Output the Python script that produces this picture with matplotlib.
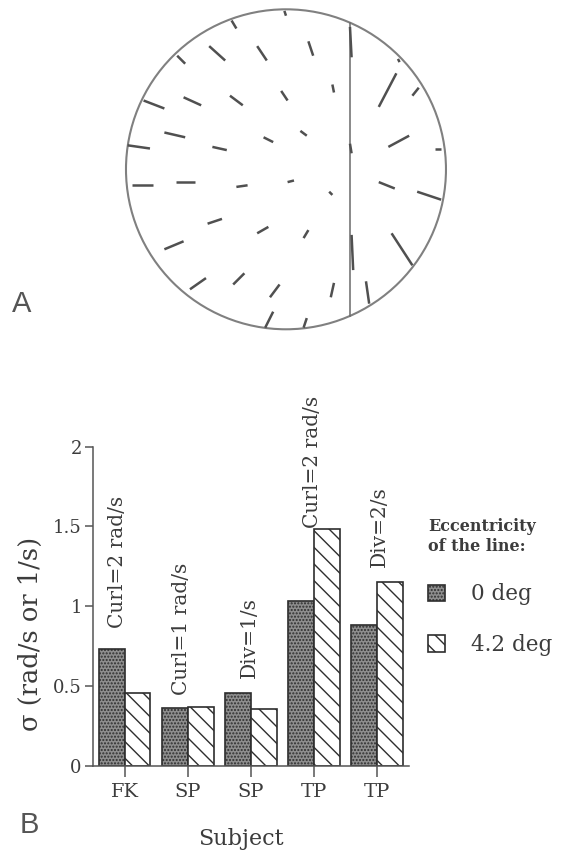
"""
Recreation of a two-panel figure:
  A - flow field of short line segments inside a circular display,
      with the tested line drawn as a vertical chord
  B - threshold sigma per subject, grouped by line eccentricity
"""

import numpy as np
import matplotlib
matplotlib.use("Agg")
import matplotlib.pyplot as plt
from matplotlib.patches import Circle
from matplotlib.collections import LineCollection


# ---------------------------------------------------------------- data: panel A
# segment endpoints, in units of the display radius (centre = 0, 0)
seg_x0 = [-0.01, -0.34, -0.68, -0.48, -0.18, 0.14, 0.29, -0.03, -0.35, -0.64,
          -0.89, -0.76, -0.46, -0.14, 0.09, -0.99, -0.96, -0.69, -0.31, 0.01,
          0.27, -0.49, -0.76, -0.18, 0.11, -0.60, -0.33, -0.10, 0.28, -0.13,
          0.11, 0.58, 0.79, 0.70, 0.64, 0.93, 0.58, 0.82, 0.66, 0.50,
          0.40, 0.40, 0.41]
seg_y0 = [0.99, 0.93, 0.71, 0.77, 0.77, 0.80, 0.53, 0.49, 0.46, 0.45,
          0.43, 0.23, 0.14, 0.20, 0.24, 0.15, -0.10, -0.08, -0.11, -0.08,
          -0.14, -0.34, -0.50, -0.40, -0.43, -0.75, -0.72, -0.80, -0.80, -0.99,
          -0.99, 0.39, 0.46, 0.69, 0.14, 0.13, -0.08, -0.14, -0.40, -0.70,
          0.89, 0.16, -0.41]
seg_x1 = [0.00, -0.31, -0.63, -0.38, -0.12, 0.17, 0.30, 0.01, -0.27, -0.53,
          -0.76, -0.63, -0.37, -0.08, 0.13, -0.85, -0.83, -0.57, -0.24, 0.05,
          0.29, -0.40, -0.64, -0.11, 0.14, -0.50, -0.26, -0.04, 0.30, -0.08,
          0.13, 0.69, 0.83, 0.71, 0.77, 0.97, 0.68, 0.97, 0.79, 0.52,
          0.41, 0.41, 0.42]
seg_y1 = [0.96, 0.88, 0.66, 0.68, 0.68, 0.71, 0.48, 0.43, 0.40, 0.40,
          0.38, 0.20, 0.12, 0.17, 0.21, 0.13, -0.10, -0.08, -0.10, -0.07,
          -0.16, -0.31, -0.45, -0.36, -0.38, -0.68, -0.65, -0.72, -0.71, -0.89,
          -0.93, 0.60, 0.51, 0.67, 0.21, 0.13, -0.12, -0.19, -0.60, -0.84,
          0.70, 0.10, -0.63]
line_x = 0.40          # eccentric test line (vertical chord)

# ---------------------------------------------------------------- data: panel B
subjects    = ["FK", "SP", "SP", "TP", "TP"]
sigma_0deg  = [0.733, 0.361, 0.455, 1.035, 0.883]
sigma_42deg = [0.459, 0.367, 0.359, 1.482, 1.154]
conditions  = ["Curl=2 rad/s", "Curl=1 rad/s", "Div=1/s", "Curl=2 rad/s", "Div=2/s"]
y_ticks     = [0, 0.5, 1, 1.5, 2]
y_ticklabels = ["0", "0.5", "1", "1.5", "2"]
series_names = ["0 deg", "4.2 deg"]

# ---------------------------------------------------------------- layout / style
SERIF = "DejaVu Serif"
INK   = "#3c3c3c"
label_dx  = [-0.11, -0.10, -0.02, -0.02, 0.03]   # condition label offsets
label_pad = [0.13, 0.08, 0.095, 0.006, 0.095]

plt.rcParams["font.family"] = SERIF
plt.rcParams["hatch.linewidth"] = 1.0

fig = plt.figure(figsize=(5.69, 8.57), dpi=100)

# ---- panel A
axA = fig.add_axes([0.1933, 0.5971, 0.6186, 0.4107])
axA.set_xlim(-1.1, 1.1)
axA.set_ylim(-1.1, 1.1)
axA.axis("off")
axA.add_patch(Circle((0, 0), 1.0, fill=False, ec="#808080", lw=1.5))
half = np.sqrt(1 - line_x ** 2)
axA.plot([line_x, line_x], [-half, half], color="#6a6a6a", lw=1.1)
segs = [[(a, b), (c, d)] for a, b, c, d in zip(seg_x0, seg_y0, seg_x1, seg_y1)]
axA.add_collection(LineCollection(segs, colors="#505050", linewidths=1.8,
                                  capstyle="butt"))

# ---- panel B
axB = fig.add_axes([0.1634, 0.1062, 0.5554, 0.3726])
x = np.arange(len(subjects))
w = 0.41
b0 = axB.bar(x - w / 2, sigma_0deg, w, facecolor="#8e8e8e", edgecolor="#2e2e2e",
             hatch=".....", lw=1.2, label=series_names[0])
b1 = axB.bar(x + w / 2, sigma_42deg, w, facecolor="white", edgecolor="#2e2e2e",
             hatch="\\\\", lw=1.2, label=series_names[1])

axB.set_xlim(-0.5, 4.5)
axB.set_ylim(0, 2)
for s in ("top", "right"):
    axB.spines[s].set_visible(False)
for s in ("left", "bottom"):
    axB.spines[s].set_color("#555555")
    axB.spines[s].set_linewidth(1.1)

axB.set_yticks(y_ticks)
axB.set_yticklabels(y_ticklabels)
axB.set_xticks(x)
axB.set_xticklabels(subjects)
axB.tick_params(axis="y", direction="out", length=6, width=1.1, pad=2,
                colors="#555555", labelcolor=INK, labelsize=13)
axB.tick_params(axis="x", direction="out", length=8, width=1.1, pad=4,
                colors="#555555", labelcolor=INK, labelsize=14)

axB.set_ylabel("σ (rad/s or 1/s)", fontsize=18.5, color=INK)
axB.yaxis.set_label_coords(-0.16, 0.413)
axB.set_xlabel("Subject", fontsize=16, color=INK)
axB.xaxis.set_label_coords(0.468, -0.195)

for i, txt in enumerate(conditions):
    top = max(sigma_0deg[i], sigma_42deg[i])
    axB.text(i + label_dx[i], top + label_pad[i], txt, rotation=90,
             ha="center", va="bottom", fontsize=14.5, color=INK, clip_on=False)

leg = axB.legend(handles=[b0, b1], loc="upper left",
                 bbox_to_anchor=(428 / 569, 1 - 518 / 857),
                 bbox_transform=fig.transFigure, frameon=False,
                 title="Eccentricity\nof the line:", alignment="left",
                 title_fontproperties={"weight": "bold", "size": 11.5,
                                       "family": SERIF},
                 fontsize=15.5, handlelength=0.8, handleheight=0.8,
                 handletextpad=1.2, labelspacing=1.33, borderpad=0,
                 borderaxespad=0)
for t in leg.get_texts():
    t.set_color(INK)
leg.get_title().set_color(INK)

# ---- panel letters
fig.text(12 / 569, 1 - 312 / 857, "A", fontsize=21, family="Liberation Sans",
         color="#555555", ha="left", va="baseline")
fig.text(20 / 569, 1 - 833 / 857, "B", fontsize=21, family="Liberation Sans",
         color="#555555", ha="left", va="baseline")

fig.savefig("out.png", dpi=100)
